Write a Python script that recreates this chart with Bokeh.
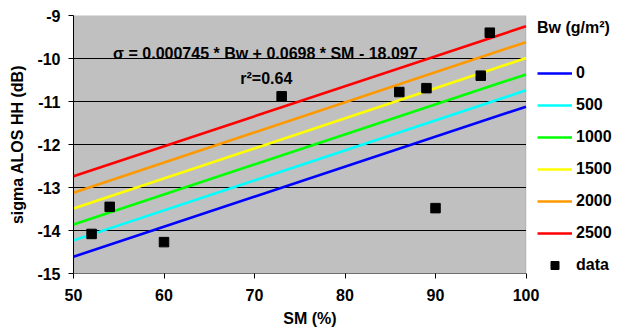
from bokeh.plotting import figure
from bokeh.models import Range1d, FixedTicker, Legend, LegendItem, Label, BoxAnnotation
from bokeh.embed import file_html
from bokeh.resources import INLINE

# ---- data ----
bw_levels = ["0", "500", "1000", "1500", "2000", "2500"]
line_colors = ["#0000FF", "#00FFFF", "#00FF00", "#FFFF00", "#FF9900", "#FF0000"]
line_sm = [50, 100]
line_sigma_start = [-14.61, -14.23, -13.86, -13.49, -13.12, -12.74]
line_sigma_end = [-11.12, -10.74, -10.37, -9.99, -9.62, -9.25]

data_sm = [52, 54, 60, 73, 86, 89, 90, 95, 96]
data_sigma = [-14.08, -13.45, -14.27, -10.88, -10.78, -10.69, -13.48, -10.40, -9.40]

x_ticks = [50, 60, 70, 80, 90, 100]
y_ticks = [-15, -14, -13, -12, -11, -10, -9]
grid_ticks = [-14, -13, -12, -11, -10]

FONT = "Liberation Sans"
FS = "16px"

X0, X1 = x_ticks[0], x_ticks[-1]
Y0, Y1 = y_ticks[0], y_ticks[-1]
# frame spans to the right edge so the legend can live inside it
x_end = X0 + (X1 - X0) * 544.0 / 452.5

p = figure(width=617, height=332, output_backend="svg", toolbar_location=None,
           x_range=Range1d(X0, x_end), y_range=Range1d(Y0, Y1),
           min_border_left=73, min_border_right=0, min_border_top=15,
           min_border_bottom=59)

p.background_fill_color = "white"
p.border_fill_color = "white"
p.outline_line_color = None
p.xgrid.visible = False
p.ygrid.visible = False

# plot area
p.add_layout(BoxAnnotation(left=X0, right=X1, bottom=Y0, top=Y1,
                           fill_color="#C0C0C0", fill_alpha=1,
                           line_color="#808080", line_width=1, level="underlay"))

for ax in (p.xaxis[0], p.yaxis[0]):
    ax.axis_line_color = "black"
    ax.major_tick_line_color = "black"
    ax.major_tick_in = 0
    ax.major_tick_out = 5
    ax.minor_tick_line_color = None
    ax.major_label_text_font = FONT
    ax.major_label_text_font_size = FS
    ax.major_label_text_font_style = "bold"
    ax.major_label_text_color = "black"
    ax.axis_label_text_font = FONT
    ax.axis_label_text_font_size = FS
    ax.axis_label_text_font_style = "bold"
    ax.axis_label_text_color = "black"

p.xaxis[0].axis_line_color = None
p.xaxis[0].ticker = FixedTicker(ticks=x_ticks)
p.yaxis[0].ticker = FixedTicker(ticks=y_ticks)
p.yaxis[0].major_label_overrides = {t: str(t) for t in y_ticks}
p.xaxis[0].axis_label = "SM (%)" + "\u00a0" * 16
p.yaxis[0].axis_label = "sigma ALOS HH (dB)"
p.xaxis[0].major_label_standoff = 10
p.yaxis[0].major_label_standoff = 8
p.xaxis[0].axis_label_standoff = 6
p.yaxis[0].axis_label_standoff = 8

# horizontal gridlines and bottom axis line, limited to the plot area
p.segment(x0=[X0] * len(grid_ticks), x1=[X1] * len(grid_ticks),
          y0=grid_ticks, y1=grid_ticks, line_color="black", line_width=1)
p.segment(x0=[X0], x1=[X1], y0=[Y0], y1=[Y0], line_color="black", line_width=1)

items = []
for lbl, col, s0, s1 in zip(bw_levels, line_colors, line_sigma_start, line_sigma_end):
    r = p.line(x=line_sm, y=[s0, s1], line_color=col, line_width=2.6)
    items.append(LegendItem(label=lbl, renderers=[r]))

sq = p.scatter(x=data_sm, y=data_sigma, marker="square", size=9.5,
               fill_color="black", line_color="black")
items.append(LegendItem(label="data", renderers=[sq]))

legend = Legend(items=items, location=(464, -2), title="Bw (g/m\u00b2)",
                padding=0, margin=0, spacing=12, glyph_height=20, label_height=20,
                glyph_width=35, label_standoff=4, title_standoff=26,
                border_line_color=None, background_fill_alpha=0)
legend.label_text_font = FONT
legend.label_text_font_size = FS
legend.label_text_font_style = "bold"
legend.label_text_color = "black"
legend.title_text_font = FONT
legend.title_text_font_size = FS
legend.title_text_font_style = "bold"
legend.title_text_color = "black"
p.add_layout(legend)

p.add_layout(Label(x=71.2, y=-9.88, text="\u03c3 = 0.000745 * Bw + 0.0698 * SM - 18.097",
                   text_font=FONT, text_font_size=FS, text_font_style="bold",
                   text_color="black", text_align="center", text_baseline="alphabetic"))
p.add_layout(Label(x=71.3, y=-10.46, text="r\u00b2=0.64",
                   text_font=FONT, text_font_size=FS, text_font_style="bold",
                   text_color="black", text_align="center", text_baseline="alphabetic"))

open("out.html", "w").write(file_html(p, INLINE))
